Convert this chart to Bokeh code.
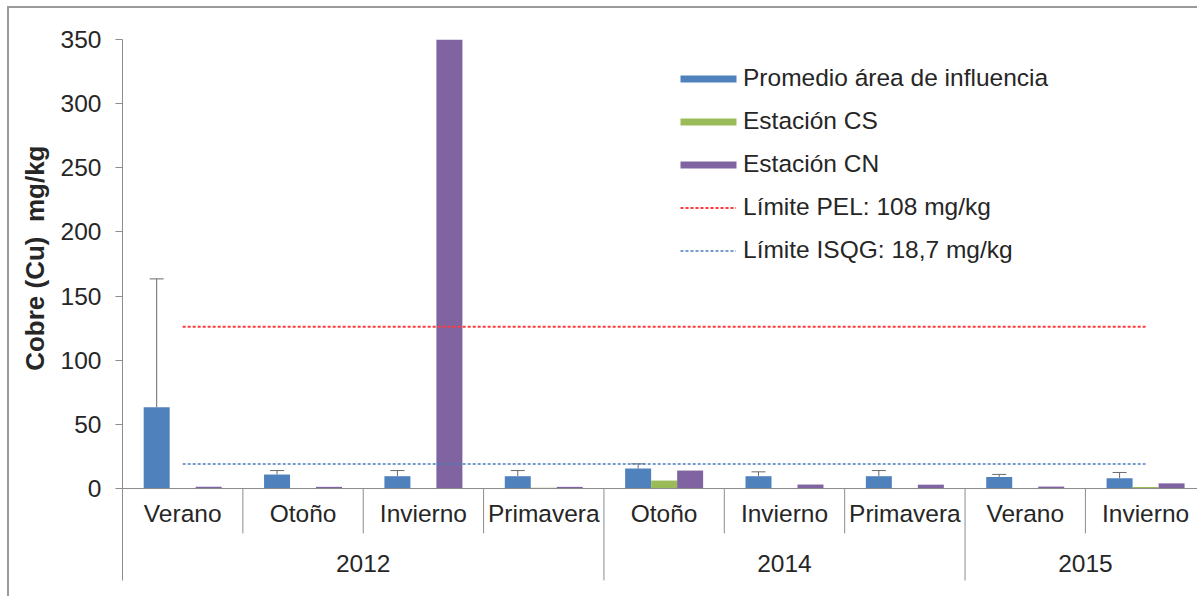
from bokeh.plotting import figure
from bokeh.models import (Range1d, FixedTicker, Span, Whisker, TeeHead, ColumnDataSource,
                          Legend, LegendItem, Title)
from bokeh.embed import file_html
from bokeh.resources import INLINE
from bokeh.core.properties import value

# ---- data ----
years = ["2012", "2012", "2012", "2012", "2014", "2014", "2014", "2015", "2015"]
seasons = ["Verano", "Otoño", "Invierno", "Primavera", "Otoño", "Invierno", "Primavera", "Verano", "Invierno"]
promedio = [63.4, 10.9, 9.6, 9.6, 15.6, 9.6, 9.6, 9.0, 8.0]
promedio_err = [100.0, 3.1, 4.4, 4.4, 3.6, 3.4, 4.4, 2.0, 4.5]
estacion_cs = [0.3, 0.3, 0.3, 0.6, 6.2, 0.3, 0.4, 0.3, 1.2]
estacion_cn = [1.3, 1.3, 350.0, 1.3, 14.0, 3.1, 3.0, 1.5, 4.0]
limite_pel = 126.0   # as drawn in the chart
limite_isqg = 19.2   # as drawn in the chart
y_ticks = [0, 50, 100, 150, 200, 250, 300, 350]
y_title = "Cobre (Cu)\u00a0 mg/kg"

FONT = "Liberation Sans"
BLUE, GREEN, PURPLE = "#4F81BD", "#9BBB59", "#8064A2"
AXIS = "#8c8c8c"
TXT = "#262626"

n = len(seasons)
centers = [i + 0.5 for i in range(n)]
bw = 0.216

p = figure(width=1190, height=590, output_backend="svg", toolbar_location=None,
           x_axis_type=None, x_range=Range1d(0, 8.948), y_range=Range1d(-71.7, 350),
           min_border_left=112, min_border_right=0, min_border_top=31, min_border_bottom=18)
p.styles = {"margin-left": "7px", "margin-top": "6px",
            "border-left": "2px solid #9a9a9a", "border-top": "2px solid #9a9a9a"}
p.outline_line_color = None
p.grid.visible = False
p.background_fill_color = "white"

ax = p.yaxis[0]
ax.ticker = FixedTicker(ticks=y_ticks)
ax.axis_line_color = AXIS
ax.major_tick_line_color = AXIS
ax.major_tick_out = 7
ax.major_tick_in = 0
ax.minor_tick_line_color = None
ax.major_label_standoff = 14
ax.major_label_text_font = FONT
ax.major_label_text_font_size = "24.5px"
ax.major_label_text_color = TXT

src = ColumnDataSource(dict(
    xb=[c - bw for c in centers], xg=centers, xp=[c + bw for c in centers],
    prom=promedio, up=[v + e for v, e in zip(promedio, promedio_err)],
    cs=estacion_cs, cn=estacion_cn,
))

r_b = p.vbar(x="xb", top="prom", bottom=0, width=bw, source=src, fill_color=BLUE, line_color=None)
r_g = p.vbar(x="xg", top="cs", bottom=0, width=bw, source=src, fill_color=GREEN, line_color=None)
r_p = p.vbar(x="xp", top="cn", bottom=0, width=bw, source=src, fill_color=PURPLE, line_color=None)

wh = Whisker(base="xb", lower="prom", upper="up", source=src, line_color="#6a6a6a", line_width=1,
             upper_head=TeeHead(size=14, line_color="#6a6a6a", line_width=1), lower_head=None)
p.add_layout(wh)

# zero line (category axis)
p.add_layout(Span(location=0, dimension="width", line_color=AXIS, line_width=1))

# limit lines across category centres
r_pel = p.line(x=[centers[0], centers[-1]], y=[limite_pel, limite_pel], line_color="#FF3B3B",
               line_width=2, line_dash="3 2")
r_isq = p.line(x=[centers[0], centers[-1]], y=[limite_isqg, limite_isqg], line_color="#4A7EBB",
               line_width=1.5, line_dash="3 2")

# separators of the two-level category axis
year_bounds = [i for i in range(1, n + 1) if i == n or years[i] != years[i - 1]]
season_bounds = [i for i in range(1, n) if i not in year_bounds]
p.segment(x0=season_bounds, x1=season_bounds, y0=[0] * len(season_bounds), y1=[-35] * len(season_bounds),
          line_color=AXIS, line_width=1)
p.segment(x0=year_bounds, x1=year_bounds, y0=[0] * len(year_bounds), y1=[-72] * len(year_bounds),
          line_color=AXIS, line_width=1)

# category labels
p.text(x=centers, y=[-19.5] * n, text=seasons, text_align="center", text_baseline="middle",
       text_font=value(FONT), text_font_size="24.5px", text_color=TXT)
uniq = []
for i, y in enumerate(years):
    if not uniq or uniq[-1][0] != y:
        uniq.append([y, i, i + 1])
    else:
        uniq[-1][2] = i + 1
p.text(x=[(a + b) / 2 for _, a, b in uniq], y=[-58.5] * len(uniq), text=[u[0] for u in uniq],
       text_align="center", text_baseline="middle", text_font=value(FONT), text_font_size="24.5px",
       text_color=TXT)

# y-axis title, placed over the value area (0..350)
p.add_layout(Title(text=y_title, align="right", offset=106, standoff=16, text_font=FONT,
                   text_font_style="bold", text_font_size="26px", text_color=TXT), "left")

common = dict(padding=0, margin=0, border_line_color=None, background_fill_alpha=0,
              label_height=28, spacing=15, label_text_font=FONT,
              label_text_font_size="24.5px", label_text_color=TXT)
leg_bars = Legend(items=[
    LegendItem(label="Promedio área de influencia", renderers=[r_b]),
    LegendItem(label="Estación CS", renderers=[r_g]),
    LegendItem(label="Estación CN", renderers=[r_p]),
], location=(551, 402), glyph_width=70, glyph_height=9, label_standoff=0, **common)
leg_lines = Legend(items=[
    LegendItem(label="Límite PEL: 108 mg/kg", renderers=[r_pel]),
    LegendItem(label="Límite ISQG: 18,7 mg/kg", renderers=[r_isq]),
], location=(558, 316), glyph_width=56, glyph_height=9, label_standoff=7, **common)
p.add_layout(leg_bars)
p.add_layout(leg_lines)

open("out.html", "w").write(file_html(p, INLINE))
